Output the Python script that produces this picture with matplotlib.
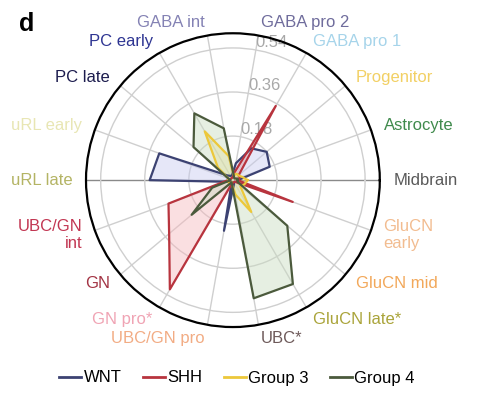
import numpy as np
import matplotlib
matplotlib.use('Agg')
from matplotlib import pyplot as plt
from matplotlib.lines import Line2D

plt.rcParams['font.family'] = ['Liberation Sans', 'DejaVu Sans']

# categories, counter-clockwise starting at 0 deg (east)
categories = ['Midbrain', 'Astrocyte', 'Progenitor', 'GABA pro 1', 'GABA pro 2',
              'GABA int', 'PC early', 'PC late', 'uRL early', 'uRL late',
              'UBC/GN\nint', 'GN', 'GN pro*', 'UBC/GN pro', 'UBC*',
              'GluCN late*', 'GluCN mid', 'GluCN\nearly']
label_colors = ['#5a5a5a', '#3f8a4c', '#f2d064', '#a6d4ea', '#6f6c9c',
                '#8482b4', '#2e3592', '#1c1c4e', '#e8e6b4', '#b4b464',
                '#c23652', '#a33444', '#f0a4b4', '#f2ac84', '#6e5a5a',
                '#aaa43a', '#f2a85a', '#f2bc90']

wnt = [0.02, 0.16, 0.18, 0.15, 0.07, 0.02, 0.02, 0.03, 0.32, 0.34,
       0.02, 0.01, 0.01, 0.21, 0.02, 0.01, 0.01, 0.02]
shh = [0.02, 0.03, 0.03, 0.35, 0.03, 0.01, 0.01, 0.01, 0.01, 0.02,
       0.28, 0.34, 0.515, 0.01, 0.01, 0.01, 0.01, 0.26]
group3 = [0.06, 0.04, 0.03, 0.03, 0.02, 0.10, 0.23, 0.08, 0.02, 0.02,
          0.02, 0.02, 0.01, 0.02, 0.06, 0.15, 0.04, 0.05]
group4 = [0.02, 0.02, 0.01, 0.01, 0.02, 0.215, 0.315, 0.21, 0.02, 0.01,
          0.09, 0.22, 0.01, 0.02, 0.49, 0.49, 0.29, 0.02]

groups = ['WNT', 'SHH', 'Group 3', 'Group 4']
series = [wnt, shh, group3, group4]
line_colors = ['#3c4272', '#b8343e', '#ecc83a', '#4b5a3c']
fill_colors = ['#c8cbf0', '#f6b8bd', '#f3e58a', '#c9dcc0']

r_ticks = [0.18, 0.36, 0.54]
r_max = 0.6

fig = plt.figure(figsize=(4.84, 3.99), dpi=100)
ax = fig.add_axes([0.1777, 0.180, 0.607, 0.737], projection='polar')

n = len(categories)
theta = np.deg2rad(np.arange(n) * 360.0 / n)
theta_c = np.append(theta, theta[0])

for vals, lc, fc in zip(series, line_colors, fill_colors):
    v = np.append(vals, vals[0])
    ax.fill(theta_c, v, color=fc, alpha=0.45, lw=0, zorder=2)
for vals, lc in zip(series, line_colors):
    v = np.append(vals, vals[0])
    ax.plot(theta_c, v, color=lc, lw=1.6, zorder=3)

ax.set_ylim(0, r_max)
ax.set_xticks(theta)
ax.set_xticklabels([])
ax.set_yticks(r_ticks)
ax.set_yticklabels(['%.2f' % t for t in r_ticks], color='#a8a8a8', fontsize=12)
ax.set_rlabel_position(80)
ax.grid(True, color='#cfcfcf', lw=1.0)
for i, gl in enumerate(ax.xaxis.get_gridlines()):
    if i in (0, n // 2):
        gl.set_color('#8a8a8a')
ax.spines['polar'].set_color('black')
ax.spines['polar'].set_linewidth(1.6)

# category labels around the circle
for ang, lab, col in zip(theta, categories, label_colors):
    deg = np.rad2deg(ang)
    c = np.cos(ang)
    if abs(c) < 1e-6:
        ha = 'center'
    elif c > 0:
        ha = 'left'
    else:
        ha = 'right'
    ax.text(ang, 0.655, lab, color=col, fontsize=12, ha=ha, va='center',
            linespacing=1.1)

fig.text(0.04, 0.94, 'd', fontsize=18, fontweight='bold', va='center')

handles = [Line2D([0], [0], color=c, lw=2) for c in line_colors]
fig.legend(handles, groups, loc='center', bbox_to_anchor=(0.49, 1 - 378 / 399),
           ncol=4, frameon=False, fontsize=12, handlelength=1.3,
           handletextpad=0.15, columnspacing=1.3)

fig.savefig('out.png', dpi=100)
